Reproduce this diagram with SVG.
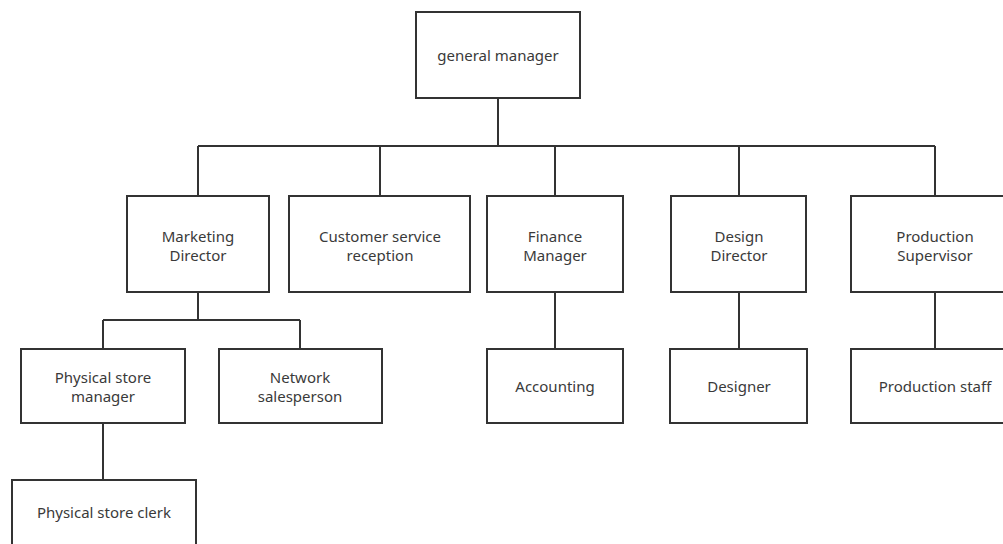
<svg xmlns="http://www.w3.org/2000/svg" width="1003" height="544" viewBox="0 0 1003 544">
<style>
.box{fill:#fff;stroke:#333;stroke-width:2}
.ln{fill:none;stroke:#333;stroke-width:2}
text{font-family:"Noto Sans","Open Sans",sans-serif;font-size:15px;fill:#3a3a3a;text-anchor:middle}
</style>
<rect width="1003" height="544" fill="#fff"/>
<g id="connectors">
<path class="ln" d="M498 98V146M198 146H935M198 146V196M380 146V196M555 146V196M739 146V196M935 146V196"/>
<path class="ln" d="M198 292V320M103 320H300M103 320V349M300 320V349M103 423V480"/>
<path class="ln" d="M555 292V349M739 292V349M935 292V349"/>
</g>
<g id="n-gm"><rect class="box" x="416" y="12" width="164" height="86"/><text x="498" y="61">general manager</text></g>
<g id="n-marketing"><rect class="box" x="127" y="196" width="142" height="96"/><text x="198" y="242">Marketing</text><text x="198" y="261">Director</text></g>
<g id="n-customer"><rect class="box" x="289" y="196" width="181" height="96"/><text x="380" y="242">Customer service</text><text x="380" y="261">reception</text></g>
<g id="n-finance"><rect class="box" x="487" y="196" width="136" height="96"/><text x="555" y="242">Finance</text><text x="555" y="261">Manager</text></g>
<g id="n-design"><rect class="box" x="671" y="196" width="135" height="96"/><text x="739" y="242">Design</text><text x="739" y="261">Director</text></g>
<g id="n-production"><rect class="box" x="851" y="196" width="168" height="96"/><text x="935" y="242">Production</text><text x="935" y="261">Supervisor</text></g>
<g id="n-psm"><rect class="box" x="21" y="349" width="164" height="74"/><text x="103" y="383">Physical store</text><text x="103" y="402">manager</text></g>
<g id="n-network"><rect class="box" x="219" y="349" width="163" height="74"/><text x="300" y="383">Network</text><text x="300" y="402">salesperson</text></g>
<g id="n-accounting"><rect class="box" x="487" y="349" width="136" height="74"/><text x="555" y="392">Accounting</text></g>
<g id="n-designer"><rect class="box" x="670" y="349" width="137" height="74"/><text x="739" y="392">Designer</text></g>
<g id="n-pstaff"><rect class="box" x="851" y="349" width="168" height="74"/><text x="935" y="392">Production staff</text></g>
<g id="n-clerk"><rect class="box" x="12" y="480" width="184" height="80"/><text x="104" y="518">Physical store clerk</text></g>
</svg>
